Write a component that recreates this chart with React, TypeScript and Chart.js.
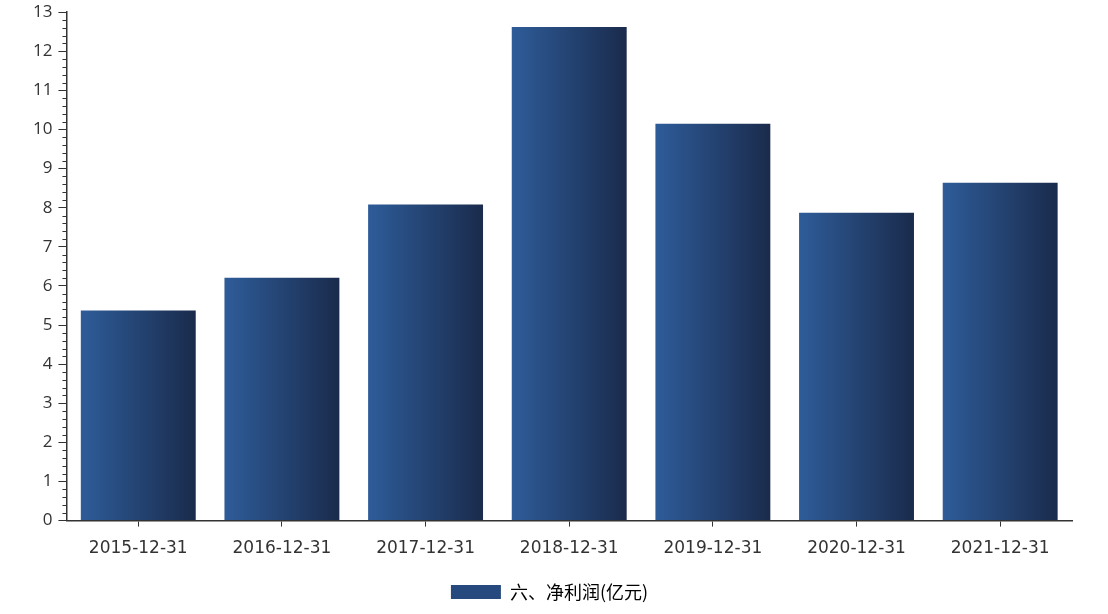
import React, { useEffect, useRef } from "react";
import { Chart, registerables } from "chart.js";

Chart.register(...registerables);

const categories = ["2015-12-31", "2016-12-31", "2017-12-31", "2018-12-31", "2019-12-31", "2020-12-31", "2021-12-31"];
const netProfit = [5.37, 6.21, 8.08, 12.62, 10.15, 7.87, 8.64];
const seriesName = "六、净利润(亿元)";
const yMin = 0;
const yMax = 13;

const LIGHT = "#2e5c99";
const DARK = "#1a2b4c";

const minorTicks = {
  id: "minorTicks",
  afterDraw(chart: any) {
    const y = chart.scales.y;
    const ctx = chart.ctx;
    ctx.save();
    ctx.strokeStyle = "#333";
    ctx.lineWidth = 1;
    for (let v = yMin; v <= yMax + 1e-9; v += 0.2) {
      const r = Math.round(v * 10) / 10;
      if (Math.abs(r - Math.round(r)) < 1e-6) continue;
      const py = Math.round(y.getPixelForValue(r)) + 0.5;
      ctx.beginPath();
      ctx.moveTo(y.right - 4, py);
      ctx.lineTo(y.right, py);
      ctx.stroke();
    }
    ctx.restore();
  },
};

export default function App() {
  const ref = useRef<HTMLCanvasElement>(null);
  useEffect(() => {
    const chart = new Chart(ref.current!, {
      type: "bar",
      data: {
        labels: categories,
        datasets: [
          {
            label: seriesName,
            data: netProfit,
            backgroundColor: (c: any) => {
              const ch = c.chart;
              const xs = ch.scales?.x;
              if (c.dataIndex === undefined || !xs || !xs.width) return "#264a7e";
              const cw = xs.width / categories.length;
              const bw = cw * 0.8;
              const cx = xs.getPixelForValue(c.dataIndex);
              const g = ch.ctx.createLinearGradient(cx - bw / 2, 0, cx + bw / 2, 0);
              g.addColorStop(0, LIGHT);
              g.addColorStop(1, DARK);
              return g;
            },
            borderWidth: 0,
            categoryPercentage: 1,
            barPercentage: 0.8,
          },
        ],
      },
      options: {
        animation: false,
        responsive: true,
        maintainAspectRatio: false,
        layout: { padding: { left: 27, right: 36, top: 0, bottom: 3 } },
        plugins: {
          legend: {
            position: "bottom",
            labels: {
              boxWidth: 50,
              boxHeight: 14,
              color: "#333",
              padding: 12,
              font: { family: "'Noto Sans CJK SC', sans-serif", size: 18 },
              generateLabels: () => [
                {
                  text: seriesName,
                  fillStyle: "#264a7e",
                  strokeStyle: "#264a7e",
                  lineWidth: 0,
                  hidden: false,
                  datasetIndex: 0,
                } as any,
              ],
            },
          },
          tooltip: { enabled: false },
        },
        scales: {
          x: {
            grid: {
              display: true,
              drawOnChartArea: false,
              offset: false,
              tickLength: 6,
              color: "#333",
            },
            border: { display: true, color: "#333", width: 1.5 },
            ticks: {
              color: "#333",
              padding: 12,
              font: { family: "'DejaVu Sans', sans-serif", size: 17 },
              maxRotation: 0,
            },
          },
          y: {
            min: yMin,
            max: yMax,
            grid: {
              display: true,
              drawOnChartArea: false,
              tickLength: 8,
              color: "#333",
            },
            border: { display: true, color: "#333", width: 1.5 },
            ticks: {
              stepSize: 1,
              color: "#333",
              padding: 6,
              font: { family: "'Open Sans', sans-serif", size: 17 },
            },
          },
        },
      },
      plugins: [minorTicks],
    });
    return () => chart.destroy();
  }, []);
  return (
    <div style={{ position: "fixed", left: 0, top: 0, width: 1108, height: 614, background: "#fff", overflow: "hidden" }}>
      <div style={{ position: "absolute", left: 0, top: -4, width: 1108, height: 618 }}>
        <canvas ref={ref} />
      </div>
    </div>
  );
}
